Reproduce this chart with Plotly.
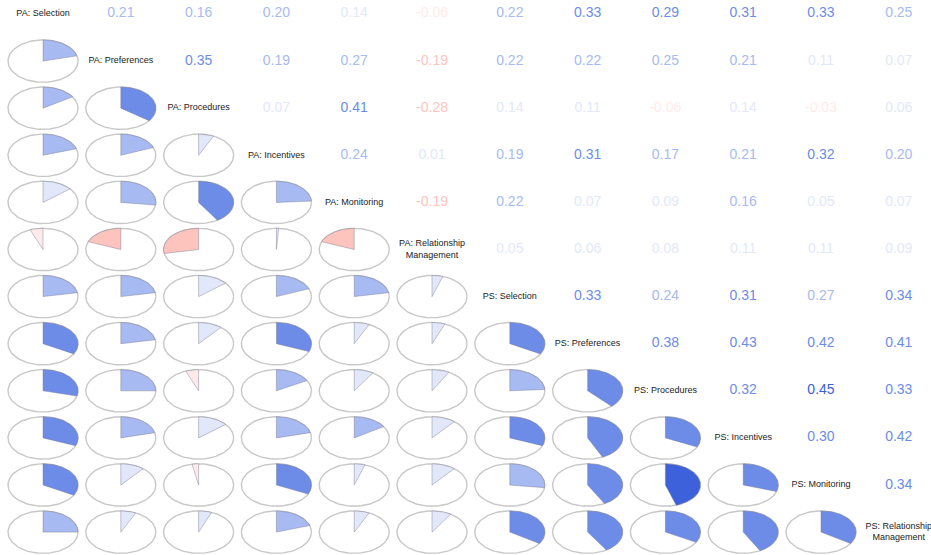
import numpy as np
import plotly.graph_objects as go

variables = ["PA: Selection", "PA: Preferences", "PA: Procedures", "PA: Incentives",
             "PA: Monitoring", "PA: Relationship<br>Management", "PS: Selection",
             "PS: Preferences", "PS: Procedures", "PS: Incentives", "PS: Monitoring",
             "PS: Relationship<br>Management"]

# upper-triangle correlations, row i gives columns i+1 .. 12
row_pa_selection = [0.21, 0.16, 0.20, 0.14, -0.06, 0.22, 0.33, 0.29, 0.31, 0.33, 0.25]
row_pa_preferences = [0.35, 0.19, 0.27, -0.19, 0.22, 0.22, 0.25, 0.21, 0.11, 0.07]
row_pa_procedures = [0.07, 0.41, -0.28, 0.14, 0.11, -0.06, 0.14, -0.03, 0.06]
row_pa_incentives = [0.24, 0.01, 0.19, 0.31, 0.17, 0.21, 0.32, 0.20]
row_pa_monitoring = [-0.19, 0.22, 0.07, 0.09, 0.16, 0.05, 0.07]
row_pa_relationship = [0.05, 0.06, 0.08, 0.11, 0.11, 0.09]
row_ps_selection = [0.33, 0.24, 0.31, 0.27, 0.34]
row_ps_preferences = [0.38, 0.43, 0.42, 0.41]
row_ps_procedures = [0.32, 0.45, 0.33]
row_ps_incentives = [0.30, 0.42]
row_ps_monitoring = [0.34]

upper_rows = [row_pa_selection, row_pa_preferences, row_pa_procedures, row_pa_incentives,
              row_pa_monitoring, row_pa_relationship, row_ps_selection, row_ps_preferences,
              row_ps_procedures, row_ps_incentives, row_ps_monitoring]

n = len(variables)
R = np.eye(n)
for i, row in enumerate(upper_rows):
    for k, v in enumerate(row):
        j = i + 1 + k
        R[i, j] = v
        R[j, i] = v

# corrgram-like palette: red, salmon, white, royalblue, navy, 14 bins
ramp_pos = [0.0, 0.25, 0.5, 0.75, 1.0]
ramp_col = [(255, 0, 0), (250, 128, 114), (255, 255, 255), (65, 105, 225), (0, 0, 128)]
ncol = 14
breaks = np.linspace(-1, 1, ncol + 1)


def ramp(t):
    for a in range(len(ramp_pos) - 1):
        if ramp_pos[a] <= t <= ramp_pos[a + 1]:
            f = (t - ramp_pos[a]) / (ramp_pos[a + 1] - ramp_pos[a])
            c = [ramp_col[a][m] + f * (ramp_col[a + 1][m] - ramp_col[a][m]) for m in range(3)]
            return "rgb(%d,%d,%d)" % tuple(int(round(x)) for x in c)
    return "rgb(0,0,128)"


def color_for(r):
    r_est = r - 0.002 * np.sign(r)  # two-decimal rounding uncertainty
    k = int(np.clip(np.searchsorted(breaks, r_est, side="right") - 1, 0, ncol - 1))
    return ramp(k / (ncol - 1))


fig = go.Figure()
rad = 0.45

# ellipse outlines (circles in data units)
ex, ey = [], []
th = np.linspace(0, 2 * np.pi, 120)
for i in range(n):
    for j in range(i):
        cx, cy = j + 1, i + 1
        ex += list(cx + rad * np.cos(th)) + [None]
        ey += list(cy + rad * np.sin(th)) + [None]
fig.add_trace(go.Scatter(x=ex, y=ey, mode="lines", line=dict(color="#c8c8c8", width=1.4),
                         hoverinfo="skip", showlegend=False))

# pie wedges
for i in range(n):
    for j in range(i):
        r = R[i, j]
        cx, cy = j + 1, i + 1
        ang = np.deg2rad(90 - np.linspace(0, 360 * r, 80))
        xs = [cx] + list(cx + rad * np.cos(ang)) + [cx]
        ys = [cy] + list(cy - rad * np.sin(ang)) + [cy]
        fig.add_trace(go.Scatter(x=xs, y=ys, mode="lines", fill="toself",
                                 fillcolor=color_for(r),
                                 line=dict(color="rgba(120,120,145,0.55)", width=0.8),
                                 hoverinfo="skip", showlegend=False))

# diagonal labels
fig.add_trace(go.Scatter(x=list(range(1, n + 1)), y=list(range(1, n + 1)), mode="text",
                         text=variables, textfont=dict(family="Liberation Sans, Arial", size=9,
                                                       color="#222222"),
                         hoverinfo="skip", showlegend=False))

# upper numbers
tx, ty, tt, tc = [], [], [], []
for i in range(n):
    for j in range(i + 1, n):
        tx.append(j + 1)
        ty.append(i + 1)
        tt.append("%.2f" % R[i, j])
        tc.append(color_for(R[i, j]))
fig.add_trace(go.Scatter(x=tx, y=ty, mode="text", text=tt,
                         textfont=dict(family="Liberation Sans, Arial", size=14, color=tc),
                         hoverinfo="skip", showlegend=False))

fig.update_layout(
    width=931, height=555, margin=dict(l=0, r=0, t=0, b=0),
    paper_bgcolor="white", plot_bgcolor="white",
    xaxis=dict(range=[0.447, 12.414], visible=False, fixedrange=True),
    yaxis=dict(range=[12.486, 0.703], visible=False, fixedrange=True),
)
fig.write_html("out.html")
